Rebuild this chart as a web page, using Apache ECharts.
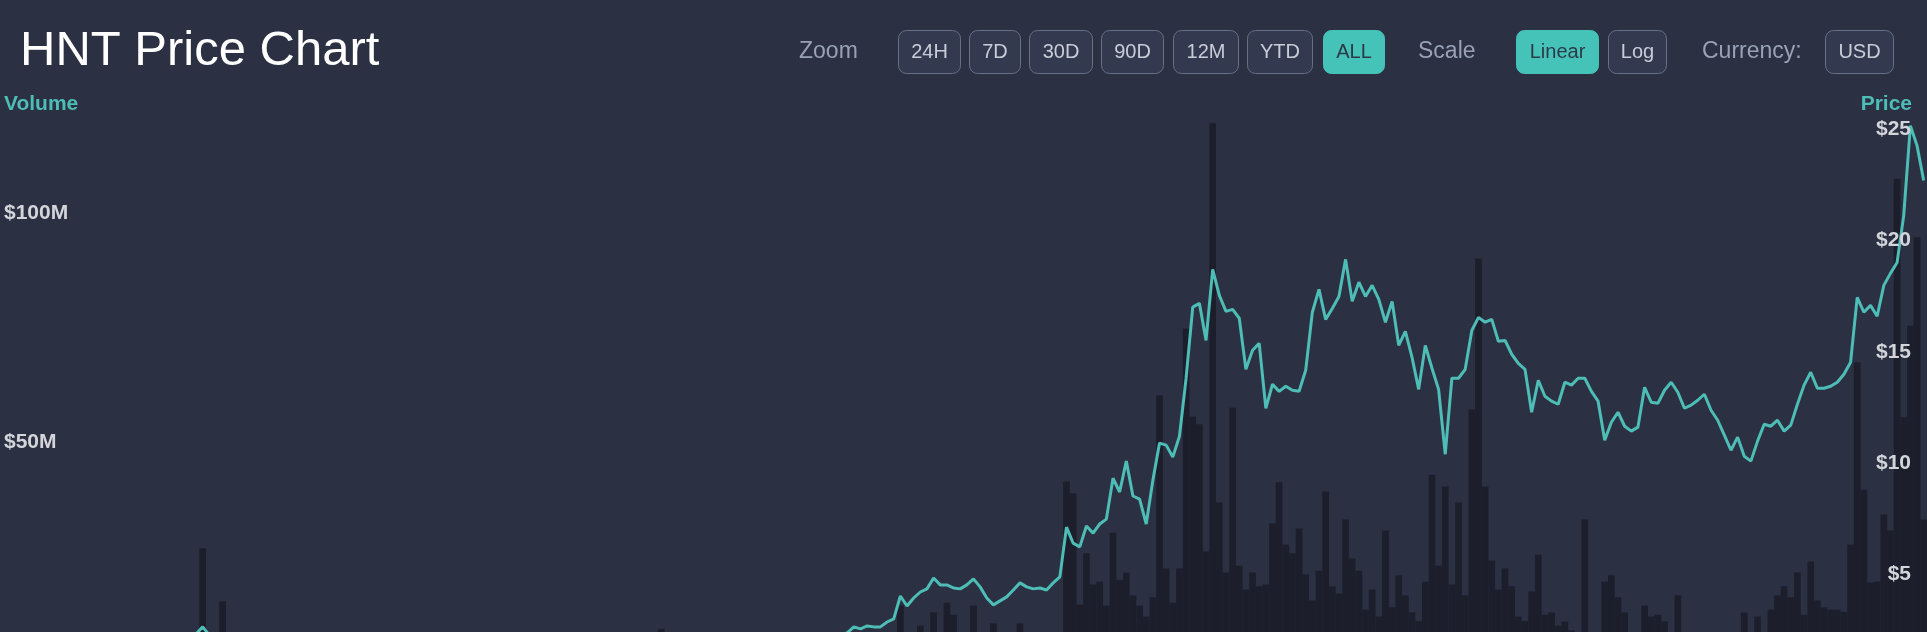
<!DOCTYPE html>
<html>
<head>
<meta charset="utf-8">
<script src="https://cdn.jsdelivr.net/npm/echarts/dist/echarts.min.js"></script>
<style>
html,body{margin:0;padding:0;background:#2b3042;overflow:hidden;width:1927px;height:632px}
#c{width:1927px;height:720px}
</style>
</head>
<body>
<div id="c"></div>
<script>
// HNT price (USD) per period
const price = [
1.25,1.30,1.22,1.18,1.27,1.35,1.40,1.33,1.38,1.45,
1.52,1.48,1.60,1.66,1.58,1.70,1.78,1.85,1.80,1.92,
1.98,2.05,1.96,2.10,2.15,2.08,2.20,2.25,2.18,2.30,
2.62,2.25,2.10,2.02,1.95,1.88,1.92,1.80,1.72,1.76,
1.65,1.58,1.62,1.50,1.45,1.40,1.48,1.36,1.30,1.25,
1.20,1.28,1.18,1.10,1.05,1.12,1.02,0.98,0.95,1.00,
0.92,0.88,0.85,0.90,0.86,0.82,0.80,0.84,0.78,0.76,
0.80,0.75,0.72,0.78,0.74,0.70,0.73,0.77,0.80,0.85,
0.82,0.88,0.92,0.96,0.90,0.94,1.00,1.05,1.02,1.08,
1.12,1.18,1.15,1.22,1.28,1.25,1.32,1.38,1.35,1.42,
1.48,1.52,1.45,1.55,1.60,1.58,1.65,1.70,1.62,1.68,
1.75,1.80,1.72,1.78,1.85,1.90,1.86,1.95,2.00,1.96,
2.05,2.10,2.02,2.12,2.18,2.22,2.28,2.35,
2.62,2.53,2.66,2.62,2.62,2.84,2.98,4.01,3.56,3.92,4.19,4.33,
4.82,4.51,4.51,4.37,4.33,4.51,4.78,4.42,3.92,3.61,
3.79,3.97,4.28,4.60,4.42,4.33,4.37,4.28,4.60,4.87,
7.11,6.39,6.22,7.16,6.84,7.25,7.47,9.31,8.69,10.08,
8.51,8.37,7.25,9.22,10.89,10.80,10.26,11.20,13.81,17.01,
17.18,15.51,18.71,17.54,16.82,16.91,16.51,14.21,15.07,15.38,
12.46,13.54,13.22,13.45,13.27,13.22,14.17,16.78,17.81,16.46,
16.95,17.49,19.16,17.27,18.13,17.49,17.99,17.36,16.33,17.27,
15.29,15.92,14.75,13.31,15.29,14.26,13.31,10.39,13.81,13.81,
14.21,15.96,16.55,16.33,16.46,15.47,15.51,14.89,14.48,14.21,
12.28,13.72,13.00,12.78,12.64,13.63,13.50,13.81,13.81,13.22,
12.78,11.02,11.83,12.28,11.65,11.43,11.61,13.40,12.73,12.68,
13.27,13.63,13.18,12.46,12.60,12.82,13.09,12.37,11.92,11.25,
10.57,11.16,10.30,10.08,10.98,11.74,11.65,11.92,11.43,11.70,
12.64,13.50,14.08,13.36,13.36,13.45,13.63,13.99,14.53,17.45,
16.78,17.09,16.60,17.99,18.53,19.02,21.14,25.18,24.28,22.71
];

// traded volume (millions USD) per period
const volume = [
2.1,1.8,2.4,1.6,1.9,2.2,2.8,2.5,3.0,2.6,
3.2,2.9,3.5,3.1,2.7,3.4,3.8,3.3,4.0,3.6,
4.2,3.9,4.5,4.8,4.1,5.2,4.6,5.5,6.0,7.2,
26.9,8.0,6.5,15.3,6.8,5.5,4.8,5.0,4.2,4.5,
3.9,4.1,3.6,3.8,3.4,3.2,3.5,3.0,2.8,3.1,
2.7,2.5,2.9,2.4,2.2,2.6,2.3,2.1,2.4,2.0,
2.2,1.9,2.1,1.8,2.0,1.7,1.9,2.2,1.8,2.0,
2.3,2.1,2.5,2.8,2.4,2.6,3.0,2.7,3.2,2.9,
3.4,3.1,3.6,3.3,3.8,3.5,4.0,3.7,4.2,3.9,
4.4,4.1,4.6,4.3,4.8,5.0,4.6,5.2,5.5,9.3,
5.0,4.8,5.3,5.6,5.1,5.8,6.0,5.5,6.2,5.8,
6.4,6.0,6.6,6.2,6.8,6.5,7.0,6.6,7.2,6.8,
7.4,7.0,7.6,7.2,7.8,7.5,8.0,7.6,
8.2,7.8,8.4,8.0,8.5,7.9,8.3,14.4,8.6,8.1,10.0,8.4,
12.9,8.5,15.0,12.4,8.2,8.0,14.4,8.3,7.9,10.5,
8.1,7.6,8.2,10.5,7.8,7.4,7.9,7.5,8.0,8.3,
41.5,38.9,14.6,25.8,19.0,19.6,14.4,30.3,20.0,21.6,
16.6,14.4,12.0,16.2,60.3,22.5,15.0,22.5,74.9,55.7,
54.0,26.2,119.7,36.9,21.6,57.6,23.1,17.9,21.6,18.6,
19.0,32.3,41.3,27.7,25.8,31.2,21.2,15.5,22.0,39.3,
18.6,17.0,33.2,24.7,22.0,13.5,17.9,12.0,30.8,14.0,
21.0,16.6,12.9,11.0,19.6,43.0,23.1,40.4,19.0,36.9,
16.6,57.2,90.2,40.4,24.2,17.9,22.5,18.6,12.0,11.0,
17.5,25.5,12.4,12.9,10.0,10.9,9.0,8.0,33.2,8.0,
7.5,19.6,21.0,16.2,12.9,7.0,6.5,14.4,12.0,12.4,
10.9,8.0,16.6,8.0,7.5,7.0,6.8,7.2,6.5,7.0,
6.6,7.4,12.9,8.0,12.0,8.2,13.5,16.6,18.6,16.2,
21.6,12.4,24.0,15.5,14.0,13.5,13.5,13.0,27.7,67.5,
39.7,19.4,19.6,34.3,30.8,107.6,55.5,75.5,94.8,33.2
];

const categories = price.map((_, i) => 'P' + (i + 1));
const volumeTickLabel = v => '$' + v + 'M';
const priceTickLabel = v => '$' + v;

const titleText = 'HNT Price Chart';
const volumeName = 'Volume';
const priceName = 'Price';
const groupLabels = ['Zoom', 'Scale', 'Currency:'];
const buttonLabels = ['24H','7D','30D','90D','12M','YTD','ALL','Linear','Log','USD'];
const activeButtons = ['ALL', 'Linear'];

// layout (pixels)
const groupLabelX = [799, 1418, 1702];
const buttonBoxes = [[898,62],[969,51],[1029,63],[1101,62],[1173,65],[1247,65],[1323,61],[1516,82],[1608,58],[1825,68]];
const BTN_Y = 30, BTN_H = 43, ROW_Y = 52;

const FONT = '"Liberation Sans", Arial, sans-serif';
const TEAL = '#4dbdb6';

const graphic = [];
graphic.push({type:'text', x:20, y:51, z:100, style:{text:titleText, fill:'#ffffff', font:'49px ' + FONT, verticalAlign:'middle', align:'left'}});
graphic.push({type:'text', x:4, y:104, z:100, style:{text:volumeName, fill:TEAL, font:'bold 21px ' + FONT, verticalAlign:'middle', align:'left'}});
graphic.push({type:'text', x:1912, y:104, z:100, style:{text:priceName, fill:TEAL, font:'bold 21px ' + FONT, verticalAlign:'middle', align:'right'}});
groupLabels.forEach((t, k) => {
  graphic.push({type:'text', x:groupLabelX[k], y:ROW_Y, z:100, style:{text:t, fill:'#98a1b5', font:'23px ' + FONT, verticalAlign:'middle', align:'left'}});
});
buttonLabels.forEach((t, k) => {
  const [bx, bw] = buttonBoxes[k];
  const active = activeButtons.includes(t);
  graphic.push({type:'rect', z:100, shape:{x:bx+0.5, y:BTN_Y+0.5, width:bw, height:BTN_H, r:8},
    style:{fill: active ? '#46c3b9' : '#333a50', stroke: active ? '#46c3b9' : '#687087', lineWidth:1}});
  graphic.push({type:'text', z:101, x:bx + bw/2 + 0.5, y:BTN_Y + BTN_H/2 + 1,
    style:{text:t, fill: active ? '#2c3a48' : '#c9cdd8', font:'20px ' + FONT, align:'center', verticalAlign:'middle'}});
});

const axisLabelBase = {inside:true, showMaxLabel:false, showMinLabel:false, color:'#d3d5da', fontWeight:'bold', fontSize:21, fontFamily:FONT};

const chart = echarts.init(document.getElementById('c'), null, {renderer:'canvas'});
chart.setOption({
  backgroundColor:'#2b3042',
  animation:false,
  grid:[
    {left:0, right:0, top:99, bottom:48.5},
    {left:0, right:0, top:18.5, bottom:34.9}
  ],
  xAxis:[
    {type:'category', gridIndex:0, data:categories, show:false, boundaryGap:true},
    {type:'category', gridIndex:1, data:categories, show:false, boundaryGap:true}
  ],
  yAxis:[
    {type:'value', gridIndex:0, position:'left', min:0, max:125, interval:50, z:20,
     axisLine:{show:false}, axisTick:{show:false}, splitLine:{show:false},
     axisLabel:Object.assign({}, axisLabelBase, {margin:4, formatter:volumeTickLabel})},
    {type:'value', gridIndex:1, position:'right', min:0, max:30, interval:5, z:20,
     axisLine:{show:false}, axisTick:{show:false}, splitLine:{show:false},
     axisLabel:Object.assign({}, axisLabelBase, {margin:16, formatter:priceTickLabel})}
  ],
  series:[
    {type:'bar', xAxisIndex:0, yAxisIndex:0, data:volume, barCategoryGap:'0%',
     itemStyle:{color:'#1c1e2b'}, silent:true, z:1},
    {type:'line', xAxisIndex:1, yAxisIndex:1, data:price, symbol:'none', showSymbol:false,
     lineStyle:{color:TEAL, width:3}, silent:true, z:3}
  ],
  graphic:graphic
});
</script>
</body>
</html>
